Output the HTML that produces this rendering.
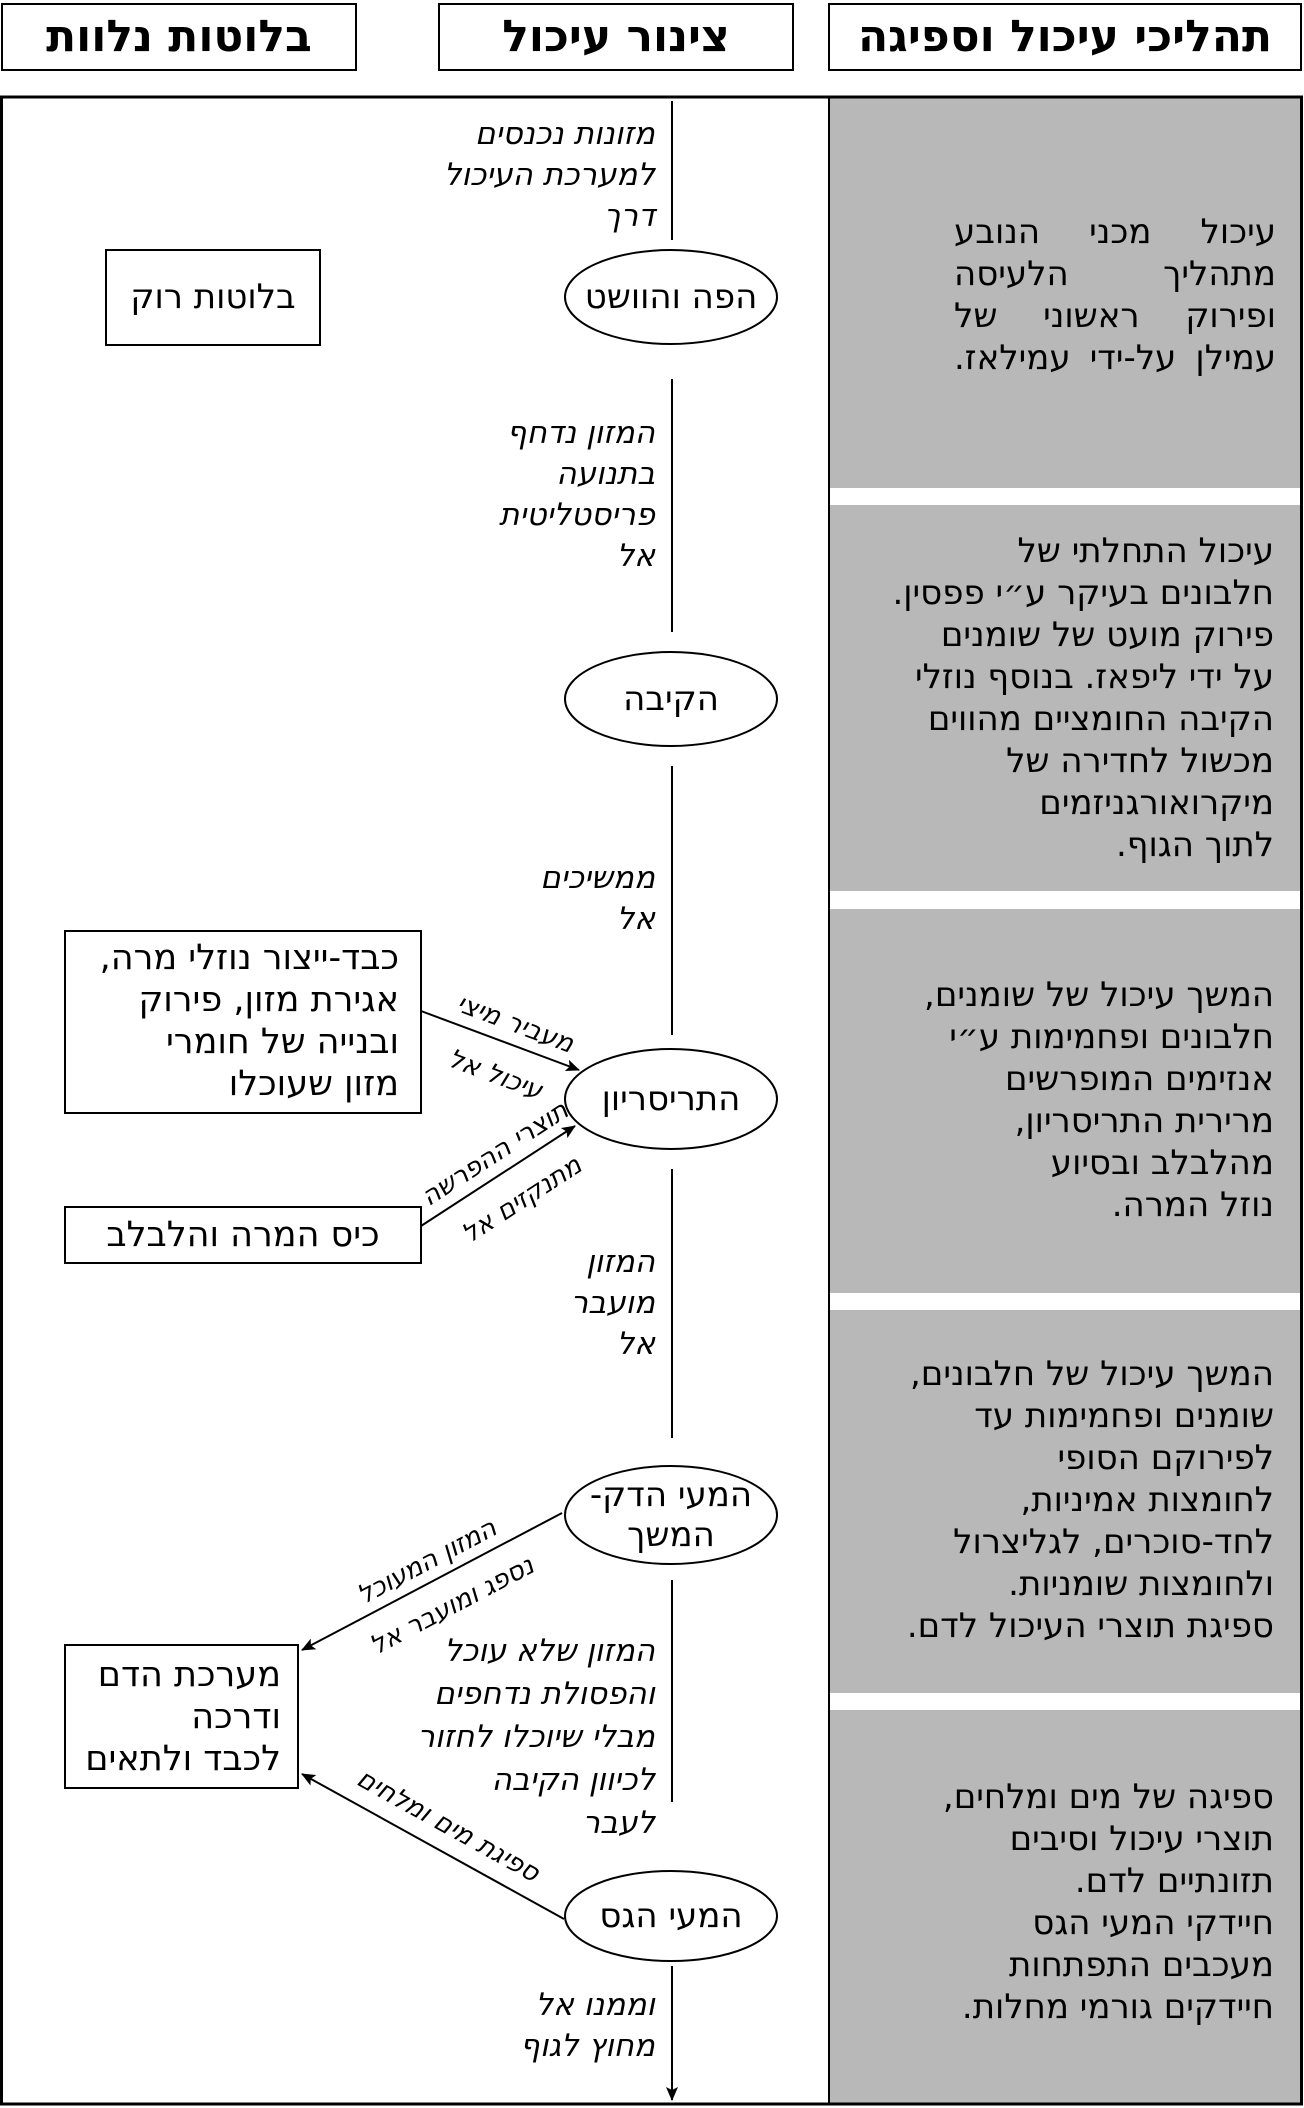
<!DOCTYPE html>
<html><head><meta charset="utf-8"><style>
body{margin:0;width:1304px;height:2108px;position:relative;background:#fff;overflow:hidden;font-family:"DejaVu Sans","Liberation Sans",sans-serif;color:#000}
.g{position:absolute;direction:rtl;white-space:nowrap;font-size:34px;line-height:42px;text-align:right}
.h{position:absolute;direction:rtl;white-space:nowrap;font-size:31px;line-height:41px;font-style:oblique;text-align:right}
.c{position:absolute;white-space:nowrap;direction:rtl;text-align:center;font-size:34px;line-height:40px}
.r{position:absolute;white-space:nowrap;direction:rtl;font-size:26px;font-style:oblique;line-height:28px;text-align:center;width:260px}
.hd{position:absolute;top:3px;height:68px;border:2px solid #000;box-sizing:border-box;font-weight:bold;font-size:44px;line-height:64px;text-align:center;direction:rtl}
</style></head><body>
<div class="hd" style="left:1px;width:356px">בלוטות נלוות</div>
<div class="hd" style="left:438px;width:356px">צינור עיכול</div>
<div class="hd" style="left:828px;width:474px">תהליכי עיכול וספיגה</div>
<svg width="1304" height="2108" style="position:absolute;left:0;top:0">
<defs><marker id="m" markerWidth="14" markerHeight="12" refX="13" refY="6" orient="auto" markerUnits="userSpaceOnUse"><path d="M0,0 L14,6 L0,12 L3,6 z" fill="#000"/></marker></defs>
<rect x="829" y="97" width="472" height="391" fill="#b8b8b8"/>
<rect x="829" y="505" width="472" height="386" fill="#b8b8b8"/>
<rect x="829" y="909" width="472" height="384" fill="#b8b8b8"/>
<rect x="829" y="1310" width="472" height="383" fill="#b8b8b8"/>
<rect x="829" y="1710" width="472" height="395" fill="#b8b8b8"/>
<rect x="1.5" y="97" width="1300" height="2007" fill="none" stroke="#000" stroke-width="3"/>
<line x1="829" y1="97" x2="829" y2="2105" stroke="#000" stroke-width="2"/>
<g stroke="#000" stroke-width="2" fill="none">
<line x1="672" y1="101" x2="672" y2="240"/>
<line x1="672" y1="379" x2="672" y2="632"/>
<line x1="672" y1="766" x2="672" y2="1035"/>
<line x1="672" y1="1169" x2="672" y2="1438"/>
<line x1="672" y1="1580" x2="672" y2="1802"/>
<line x1="672" y1="1966" x2="672" y2="2100" marker-end="url(#m)"/>
<ellipse cx="671" cy="297" rx="106" ry="47" fill="#fff"/>
<ellipse cx="671" cy="699" rx="106" ry="47" fill="#fff"/>
<ellipse cx="671" cy="1099" rx="106" ry="50" fill="#fff"/>
<ellipse cx="671" cy="1515" rx="106" ry="49" fill="#fff"/>
<ellipse cx="671" cy="1916" rx="106" ry="45" fill="#fff"/>
<rect x="106" y="250" width="214" height="95" fill="#fff"/>
<rect x="65" y="931" width="356" height="182" fill="#fff"/>
<rect x="65" y="1207" width="356" height="56" fill="#fff"/>
<rect x="65" y="1645" width="233" height="143" fill="#fff"/>
<line x1="421" y1="1011" x2="579" y2="1070" marker-end="url(#m)"/>
<line x1="421" y1="1226" x2="575" y2="1126" marker-end="url(#m)"/>
<line x1="562" y1="1513" x2="302" y2="1650" marker-end="url(#m)"/>
<line x1="564" y1="1919" x2="302" y2="1774" marker-end="url(#m)"/>
</g></svg>

<div class="c" style="left:565px;width:212px;top:277px">הפה והוושט</div>
<div class="c" style="left:565px;width:212px;top:679px">הקיבה</div>
<div class="c" style="left:565px;width:212px;top:1079px">התריסריון</div>
<div class="c" style="left:565px;width:212px;top:1475px">המעי הדק-<br>המשך</div>
<div class="c" style="left:565px;width:212px;top:1896px">המעי הגס</div>

<div class="c" style="left:106px;width:214px;top:277px">בלוטות רוק</div>
<div class="g" style="right:905px;top:937px;font-size:35px">כבד-ייצור נוזלי מרה,<br>אגירת מזון, פירוק<br>ובנייה של חומרי<br>מזון שעוכלו</div>
<div class="c" style="left:65px;width:356px;top:1215px;font-size:35px">כיס המרה והלבלב</div>
<div class="g" style="right:1023px;top:1654px;font-size:35px">מערכת הדם<br>ודרכה<br>לכבד ולתאים</div>

<div class="h" style="right:649px;top:114px">מזונות נכנסים<br>למערכת העיכול<br>דרך</div>
<div class="h" style="right:649px;top:413px">המזון נדחף<br>בתנועה<br>פריסטליטית<br>אל</div>
<div class="h" style="right:649px;top:858px">ממשיכים<br>אל</div>
<div class="h" style="right:649px;top:1242px">המזון<br>מועבר<br>אל</div>
<div class="h" style="right:649px;top:1630px;line-height:43px">המזון שלא עוכל<br>והפסולת נדחפים<br>מבלי שיוכלו לחזור<br>לכיוון הקיבה<br>לעבר</div>
<div class="h" style="right:649px;top:1985px">וממנו אל<br>מחוץ לגוף</div>

<div class="r" style="left:385px;top:1010px;transform:rotate(20.5deg)">מעביר מיצי</div>
<div class="r" style="left:365px;top:1061px;transform:rotate(20.5deg)">עיכול אל</div>
<div class="r" style="left:365px;top:1140px;transform:rotate(-33deg)">תוצרי ההפרשה</div>
<div class="r" style="left:392px;top:1186px;transform:rotate(-33deg)">מתנקזים אל</div>
<div class="r" style="left:297px;top:1548px;transform:rotate(-27.8deg)">המזון המעוכל</div>
<div class="r" style="left:322px;top:1592px;transform:rotate(-27.8deg)">נספג ומועבר אל</div>
<div class="r" style="left:318px;top:1812px;transform:rotate(29deg)">ספיגת מים ומלחים</div>

<div class="g" style="right:28px;top:211px;width:322px">
<div style="text-align-last:justify">עיכול מכני הנובע</div>
<div style="text-align-last:justify">מתהליך הלעיסה</div>
<div style="text-align-last:justify">ופירוק ראשוני של</div>
<div style="text-align-last:justify">עמילן על-ידי עמילאז.</div></div>
<div class="g" style="right:30px;top:530px">עיכול התחלתי של<br>חלבונים בעיקר ע״י פפסין.<br>פירוק מועט של שומנים<br>על ידי ליפאז. בנוסף נוזלי<br>הקיבה החומציים מהווים<br>מכשול לחדירה של<br>מיקרואורגניזמים<br>לתוך הגוף.</div>
<div class="g" style="right:30px;top:974px">המשך עיכול של שומנים,<br>חלבונים ופחמימות ע״י<br>אנזימים המופרשים<br>מרירית התריסריון,<br>מהלבלב ובסיוע<br>נוזל המרה.</div>
<div class="g" style="right:30px;top:1353px">המשך עיכול של חלבונים,<br>שומנים ופחמימות עד<br>לפירוקם הסופי<br>לחומצות אמיניות,<br>לחד-סוכרים, לגליצרול<br>ולחומצות שומניות.<br>ספיגת תוצרי העיכול לדם.</div>
<div class="g" style="right:30px;top:1776px">ספיגה של מים ומלחים,<br>תוצרי עיכול וסיבים<br>תזונתיים לדם.<br>חיידקי המעי הגס<br>מעכבים התפתחות<br>חיידקים גורמי מחלות.</div>
</body></html>
